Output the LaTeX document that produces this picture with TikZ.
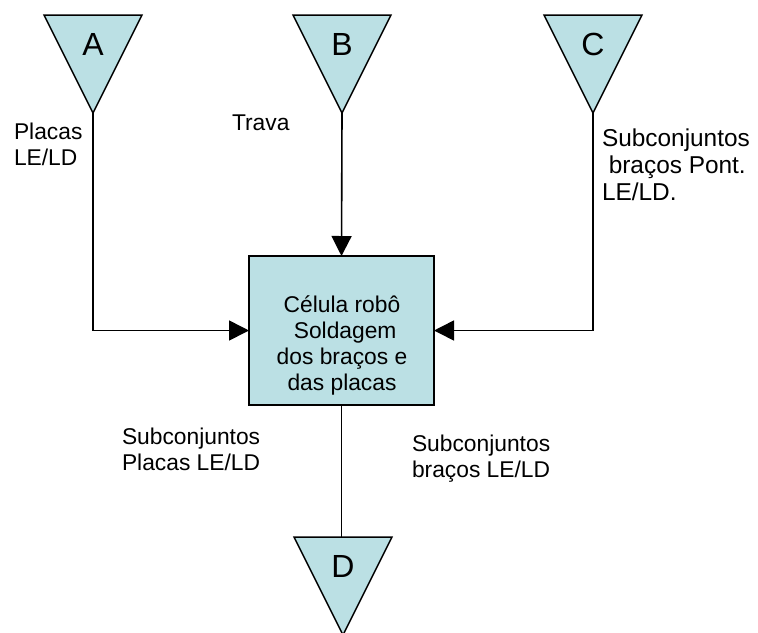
\documentclass[tikz,border=0pt]{standalone}
\usepackage{fontspec}
\setmainfont{Liberation Sans}
\usetikzlibrary{arrows.meta}
\definecolor{cellfill}{RGB}{187,224,228}
\definecolor{ink}{RGB}{0,0,0}

\begin{document}
\begin{tikzpicture}[x=0.5pt, y=-0.5pt,
  every node/.style={inner sep=0pt, outer sep=0pt},
  tri/.style={draw=ink, fill=cellfill, line width=0.75pt, line join=miter},
  letter/.style={font=\fontsize{16}{19}\selectfont, anchor=base},
  lbl/.style={font=\fontsize{11.4}{13}\selectfont, align=left, anchor=base west},
  flow/.style={draw=ink, line width=0.8pt, -{Triangle[length=10pt, width=10pt]}},
  plain/.style={draw=ink, line width=0.8pt}]
\useasboundingbox (0,0) rectangle (758,632);
% supply and delivery triangles: name / centre x / top y
\foreach \nm/\xx/\yy in {A/93/15, B/342/15, C/593/15, D/343/537} {
  \draw[tri] ({\xx-49},\yy) -- ({\xx+49},\yy) -- (\xx,{\yy+98}) -- cycle;
  \node[letter] (\nm) at (\xx,{\yy+40}) {\nm};
  \coordinate (\nm-tip) at (\xx,{\yy+98});
  \coordinate (\nm-top) at (\xx,\yy);
}
% welding cell (base anchor of a multi-line node = last line)
\node[draw=ink, fill=cellfill, line width=1pt, minimum width=92.5pt, minimum height=74.5pt] (cell) at (341.5,330.5) {};
\node[font=\fontsize{11.4}{13}\selectfont, align=center, anchor=base] (celltext) at (342,390)
  {Célula robô\\\ Soldagem\\dos braços e\\das placas};
% connectors
\draw[flow] (A-tip) |- (cell.west);
\draw[flow] (B-tip) -- (cell.north);
\draw[flow] (C-tip) |- (cell.east);
\draw[plain] (cell.south) -- (cell.south |- D-top);
% flow labels
\node[lbl] (placas) at (14,165) {Placas\\LE/LD};
\node[lbl] (trava) at (232,130) {Trava};
\node[lbl, font=\fontsize{12.2}{13.3}\selectfont] (subpont) at (602,200) {Subconjuntos\\\ braços Pont.\\LE/LD.};
\node[lbl] (subplacas) at (122,470) {Subconjuntos\\Placas LE/LD};
\node[lbl] (subbracos) at (412,477) {Subconjuntos\\braços LE/LD};
\end{tikzpicture}
\end{document}
